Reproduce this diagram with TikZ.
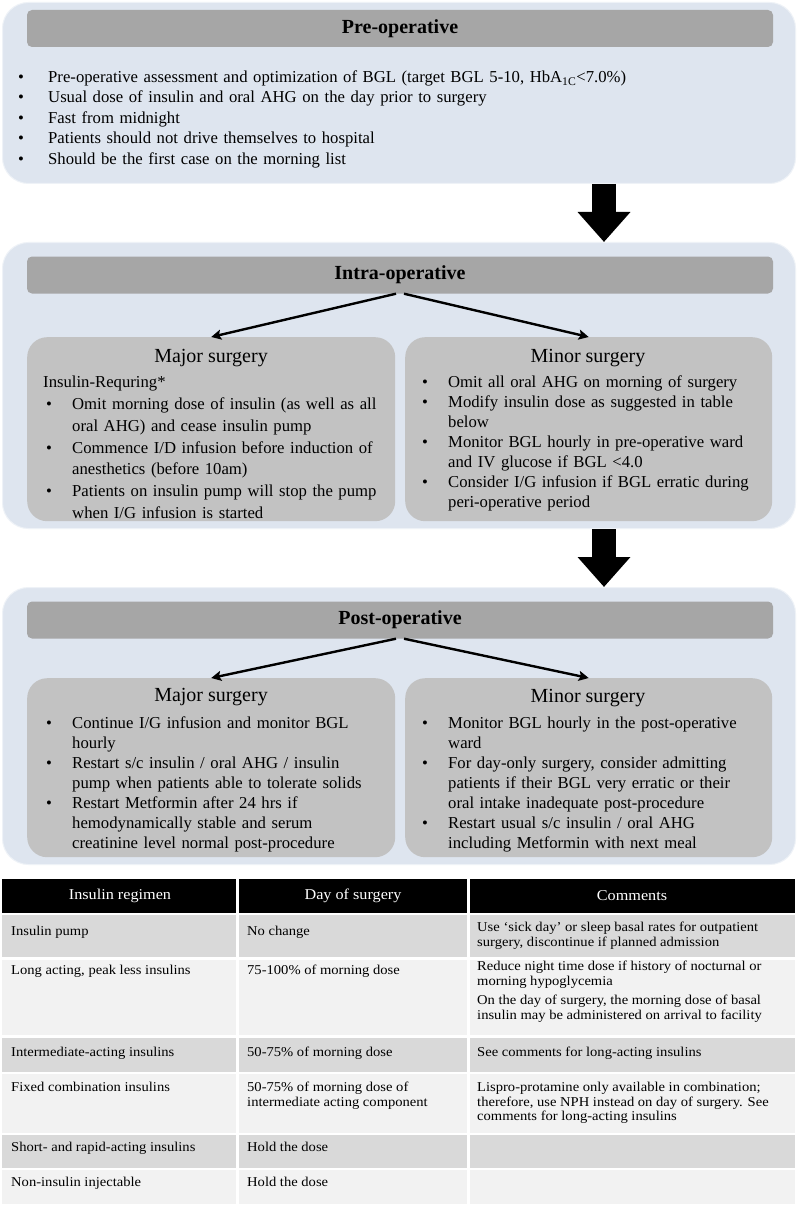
\documentclass[tikz,border=0pt]{standalone}
\usepackage{fontspec}
\setmainfont{Liberation Serif}
\newfontfamily\tabfont[FakeStretch=1.08]{Liberation Serif}
\usetikzlibrary{arrows.meta}
\definecolor{stagefill}{HTML}{DEE5EF}
\definecolor{barfill}{HTML}{A6A6A6}
\definecolor{subfill}{HTML}{C2C2C2}
\definecolor{rowdark}{HTML}{D9D9D9}
\definecolor{rowlight}{HTML}{F2F2F2}
\newcommand{\bitem}[2][26pt]{\par\hangindent=#1\hangafter=1\noindent\makebox[#1][l]{\textbullet}#2}
\tikzset{
  stagebox/.style = {draw=white!50!stagefill, line width=1pt, fill=stagefill, rounded corners=26pt,
                     anchor=north west, inner sep=0pt, minimum width=793pt},
  headbar/.style  = {fill=barfill, rounded corners=5pt, minimum width=746pt, minimum height=37pt,
                     inner sep=0pt, font=\fontsize{20}{24}\selectfont\bfseries},
  subbox/.style   = {fill=subfill, rounded corners=20pt, anchor=north west, inner sep=0pt},
  subtitle/.style = {inner sep=0pt, font=\fontsize{20}{24}\selectfont},
  listtext/.style = {anchor=north west, inner sep=0pt, align=left, text width=420pt,
                     font=\fontsize{16.7}{20.4}\selectfont},
  flowarr/.style  = {-{Stealth[length=10pt,width=10pt,inset=2pt]}, line width=2.4pt},
  bigarr/.style   = {-{Triangle[length=30pt,width=51pt]}, line width=24pt},
  celltext/.style = {anchor=north west, inner sep=0pt, align=left,
                     font=\tabfont\fontsize{13.5}{14.5}\selectfont},
  headtext/.style = {inner sep=0pt, text=white, font=\tabfont\fontsize{15}{17}\selectfont}
}

\begin{document}
\begin{tikzpicture}[x=1pt,y=-1pt]
  \useasboundingbox (0,0) rectangle (797,1206);
  \fill[white] (0,0) rectangle (797,1206);

  % stage panels
  \node[stagebox, minimum height=181pt] (pre)   at (2,2)   {};
  \node[stagebox, minimum height=286pt] (intra) at (2,242) {};
  \node[stagebox, minimum height=277pt] (post)  at (2,587) {};

  \node[headbar] (prehead)   at (400,28.5) {Pre-operative};
  \node[headbar] (intrahead) at (400,275)  {Intra-operative};
  \node[headbar] (posthead)  at (400,620)  {Post-operative};

  % pre-operative
  \node[listtext, text width=770pt] (prelist) at (18,62) {%
    \bitem[30pt]{Pre-operative assessment and optimization of BGL (target BGL 5-10, HbA\textsubscript{1C}<7.0\%)}
    \bitem[30pt]{Usual dose of insulin and oral AHG on the day prior to surgery}
    \bitem[30pt]{Fast from midnight}
    \bitem[30pt]{Patients should not drive themselves to hospital}
    \bitem[30pt]{Should be the first case on the morning list}\par};

  % intra-operative
  \node[subbox, minimum width=368pt, minimum height=184pt] (intramaj) at (27,337)  {};
  \node[subbox, minimum width=367pt, minimum height=184pt] (intramin) at (405,337) {};
  \node[subtitle] (intramajt) at (211,358) {Major surgery};
  \node[subtitle] (intramint) at (588,358) {Minor surgery};
  \node[listtext, font=\fontsize{16.7}{21.8}\selectfont] (intramajl) at (46,376) {%
    \noindent\hspace*{-3pt}Insulin-Requring*
    \bitem{Omit morning dose of insulin (as well as all\newline oral AHG) and cease insulin pump}
    \bitem{Commence I/D infusion before induction of\newline anesthetics (before 10am)}
    \bitem{Patients on insulin pump will stop the pump\newline when I/G infusion is started}\par};
  \node[listtext, font=\fontsize{16.7}{20.1}\selectfont] (intraminl) at (422,367) {%
    \bitem{Omit all oral AHG on morning of surgery}
    \bitem{Modify insulin dose as suggested in table\newline below}
    \bitem{Monitor BGL hourly in pre-operative ward\newline and IV glucose if BGL <4.0}
    \bitem{Consider I/G infusion if BGL erratic during\newline peri-operative period}\par};
  \draw[flowarr] ([xshift=-4pt]intrahead.south) -- (intramaj.north);
  \draw[flowarr] ([xshift=4pt]intrahead.south) -- (intramin.north);

  % post-operative
  \node[subbox, minimum width=368pt, minimum height=179pt] (postmaj) at (27,678)  {};
  \node[subbox, minimum width=367pt, minimum height=179pt] (postmin) at (405,678) {};
  \node[subtitle] (postmajt) at (211,697) {Major surgery};
  \node[subtitle] (postmint) at (588,698) {Minor surgery};
  \node[listtext, font=\fontsize{16.7}{20}\selectfont] (postmajl) at (46,708) {%
    \bitem{Continue I/G infusion and monitor BGL\newline hourly}
    \bitem{Restart s/c insulin / oral AHG / insulin\newline pump when patients able to tolerate solids}
    \bitem{Restart Metformin after 24 hrs if\newline hemodynamically stable and serum\newline creatinine level normal post-procedure}\par};
  \node[listtext, font=\fontsize{16.7}{20}\selectfont] (postminl) at (422,708) {%
    \bitem{Monitor BGL hourly in the post-operative\newline ward}
    \bitem{For day-only surgery, consider admitting\newline patients if their BGL very erratic or their\newline oral intake inadequate post-procedure}
    \bitem{Restart usual s/c insulin / oral AHG\newline including Metformin with next meal}\par};
  \draw[flowarr] ([xshift=-4pt]posthead.south) -- (postmaj.north);
  \draw[flowarr] ([xshift=4pt]posthead.south) -- (postmin.north);

  % stage arrows
  \coordinate (a1) at (604,0);
  \draw[bigarr] (pre.south -| a1) -- (intra.north -| a1);
  \draw[bigarr] (intra.south -| a1) -- (post.north -| a1);

  % insulin table
  \fill[black] (2,879) rectangle (236,913);
  \fill[black] (239,879) rectangle (467,913);
  \fill[black] (470,879) rectangle (795,913);
  \foreach \ytop/\ybot/\rowcol in {915/957/rowdark, 960/1035/rowlight, 1038/1072/rowdark,
                                   1074/1133/rowlight, 1135/1168/rowdark, 1170/1204/rowlight} {
    \fill[\rowcol] (2,\ytop) rectangle (236,\ybot);
    \fill[\rowcol] (239,\ytop) rectangle (467,\ybot);
    \fill[\rowcol] (470,\ytop) rectangle (795,\ybot);
  }
  \node[headtext] (h1) at (120,896) {Insulin regimen};
  \node[headtext] (h2) at (353,896) {Day of surgery};
  \node[headtext] (h3) at (632,896) {Comments};

  \node[celltext] (r1a) at (11,926)   {Insulin pump};
  \node[celltext] (r1b) at (247,926)  {No change};
  \node[celltext] (r1c) at (477,922)  {Use ‘sick day’ or sleep basal rates for outpatient\\surgery, discontinue if planned admission};
  \node[celltext] (r2a) at (11,965)   {Long acting, peak less insulins};
  \node[celltext] (r2b) at (247,965)  {75-100\% of morning dose};
  \node[celltext] (r2c) at (477,961)  {Reduce night time dose if history of nocturnal or\\morning hypoglycemia\\[5pt]On the day of surgery, the morning dose of basal\\insulin may be administered on arrival to facility};
  \node[celltext] (r3a) at (11,1047)  {Intermediate-acting insulins};
  \node[celltext] (r3b) at (247,1047) {50-75\% of morning dose};
  \node[celltext] (r3c) at (477,1047) {See comments for long-acting insulins};
  \node[celltext] (r4a) at (11,1082)  {Fixed combination insulins};
  \node[celltext] (r4b) at (247,1082) {50-75\% of morning dose of\\intermediate acting component};
  \node[celltext] (r4c) at (477,1082) {Lispro-protamine only available in combination;\\therefore, use NPH instead on day of surgery. See\\comments for long-acting insulins};
  \node[celltext] (r5a) at (11,1142)  {Short- and rapid-acting insulins};
  \node[celltext] (r5b) at (247,1142) {Hold the dose};
  \node[celltext] (r6a) at (11,1177)  {Non-insulin injectable};
  \node[celltext] (r6b) at (247,1177) {Hold the dose};
\end{tikzpicture}
\end{document}
